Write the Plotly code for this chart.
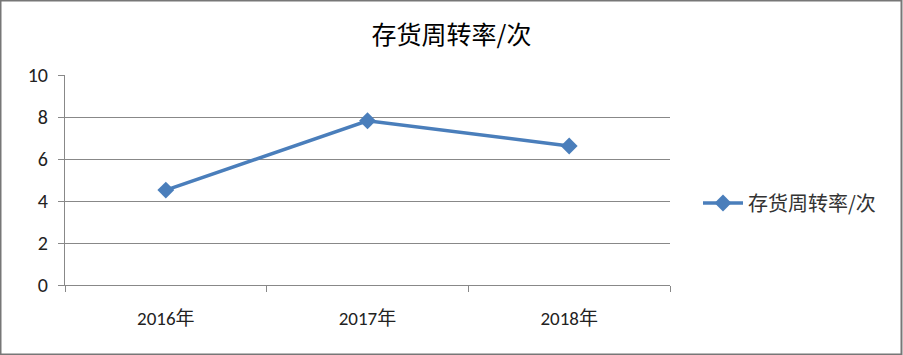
import plotly.graph_objects as go

categories = ["2016年", "2017年", "2018年"]
values = [4.52, 7.82, 6.62]
series_name = "存货周转率/次"
title_text = "存货周转率/次"

W, H = 903, 355
L, R, T, B = 65, 233, 75, 70
pw, ph = W - L - R, H - T - B

font_family = "Carlito, Calibri, 'Liberation Sans', 'Noto Sans CJK SC', sans-serif"

fig = go.Figure()
fig.add_trace(go.Scatter(
    x=categories, y=values, name=series_name,
    mode="lines+markers",
    line=dict(color="#4A7EBB", width=3.5),
    marker=dict(symbol="diamond", size=13, color="#4A7EBB"),
))

fig.update_layout(
    width=W, height=H,
    margin=dict(l=L, r=R, t=T, b=B),
    paper_bgcolor="white", plot_bgcolor="white",
    font=dict(family=font_family, size=16, color="#222"),
    title=dict(text=title_text, x=0.5, xref="container", xanchor="center",
               y=1 - 35 / H, yref="container", yanchor="middle",
               font=dict(size=25, color="#000", family="'Noto Sans CJK SC', sans-serif")),
    showlegend=True,
    legend=dict(x=(698 - L) / pw, y=(285 - 203) / ph, xanchor="left", yanchor="middle",
                font=dict(size=20, color="#333", family="'Noto Sans CJK SC', sans-serif"),
                bgcolor="rgba(0,0,0,0)", itemwidth=40),
    xaxis=dict(type="category", showgrid=False, showline=True, linecolor="#888", linewidth=1,
               ticks="outside", tickson="boundaries", ticklen=6, tickcolor="#888",
               tickfont=dict(size=19, color="#222"), range=[-0.5, 2.5],
               ticklabelstandoff=16),
    yaxis=dict(range=[0, 10], dtick=2, showgrid=True, gridcolor="#888", gridwidth=1,
               showline=True, linecolor="#888", linewidth=1, zeroline=False,
               ticks="outside", ticklen=6, tickcolor="#888",
               tickfont=dict(size=20, color="#222"), ticklabelstandoff=6),
)

fig.add_shape(type="rect", xref="paper", yref="paper",
              x0=(0.5 - L) / pw, x1=(W - 1.5 - L) / pw,
              y0=-(B - 0.5) / ph, y1=1 + (T - 0.5) / ph,
              line=dict(color="#777", width=2), fillcolor="rgba(0,0,0,0)", layer="above")

fig.write_html("out.html")
